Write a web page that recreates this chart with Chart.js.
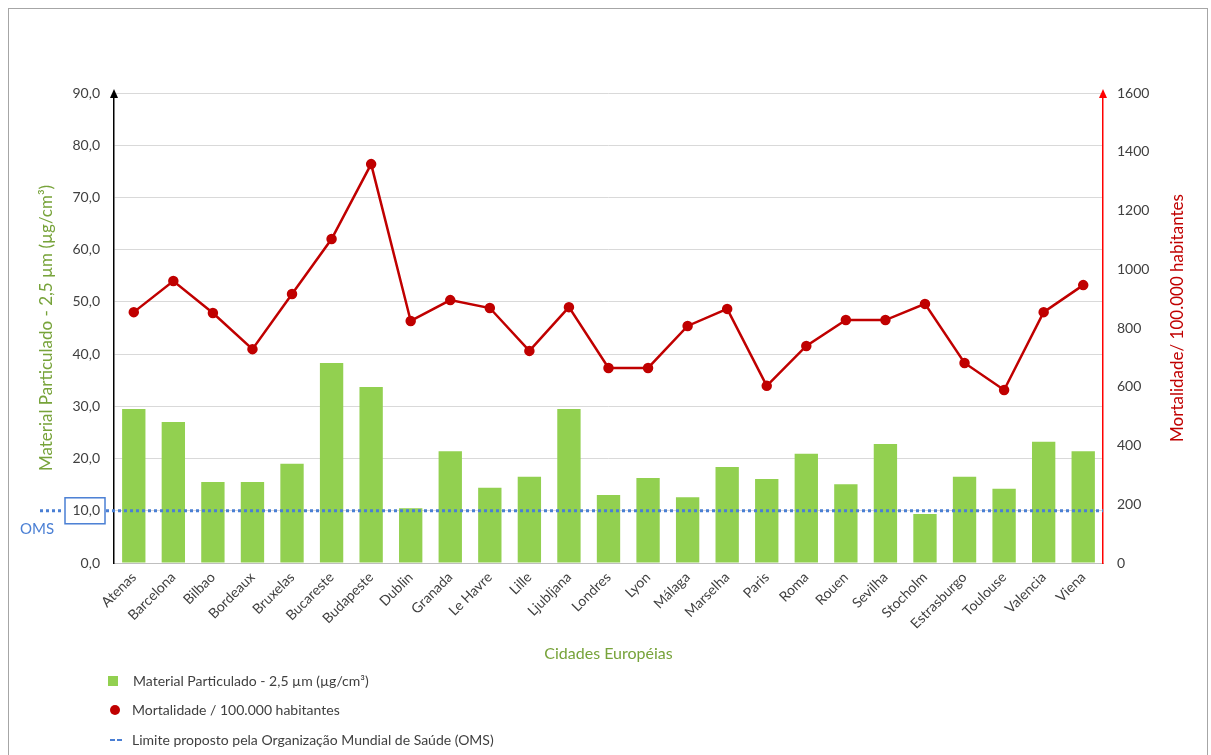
<!DOCTYPE html>
<html>
<head>
<meta charset="utf-8">
<script src="https://cdn.jsdelivr.net/npm/chart.js@4.4.1/dist/chart.umd.min.js"></script>
<style>
  body { margin: 0; background: #fff; font-family: Lato, "Open Sans", sans-serif; }
  #wrap { position: relative; width: 1211px; height: 755px; }
  #frame { position: absolute; left: 8px; top: 8px; width: 1198px; height: 760px; border: 1px solid #a6a6a6; pointer-events: none; }
  .leg { position: absolute; left: 108px; font-size: 14px; color: #404040; display: flex; align-items: center; }
  .sq { width: 10px; height: 10px; background: #92d050; margin-right: 15px; }
  .dot { width: 10px; height: 10px; border-radius: 50%; background: #c00000; margin-right: 12px; margin-left: 2px; }
  .dash { width: 5px; height: 2px; background: #4a7fd4; margin-left: 2px; }
  .dash2 { margin-right: 10px; }
</style>
</head>
<body>
<div id="wrap">
  <canvas id="chart" width="1211" height="755"></canvas>
  <div id="frame"></div>
  <div class="leg" style="top:672px"><span class="sq"></span>Material Particulado - 2,5 µm (µg/cm³)</div>
  <div class="leg" style="top:701px"><span class="dot"></span>Mortalidade / 100.000 habitantes</div>
  <div class="leg" style="top:731px"><span class="dash"></span><span class="dash dash2"></span>Limite proposto pela Organização Mundial de Saúde (OMS)</div>
</div>
<script>
const cidades = ['Atenas', 'Barcelona', 'Bilbao', 'Bordeaux', 'Bruxelas', 'Bucareste', 'Budapeste', 'Dublin',
  'Granada', 'Le Havre', 'Lille', 'Ljubljana', 'Londres', 'Lyon', 'Málaga', 'Marselha', 'Paris', 'Roma',
  'Rouen', 'Sevilha', 'Stocholm', 'Estrasburgo', 'Toulouse', 'Valencia', 'Viena'];

const particulado = [29.5, 27.0, 15.5, 15.5, 19.0, 38.3, 33.7, 10.5, 21.4, 14.4, 16.5, 29.5, 13.0, 16.3,
  12.6, 18.4, 16.1, 20.9, 15.1, 22.8, 9.4, 16.5, 14.2, 23.2, 21.4];

const mortalidade = [854, 960, 851, 728, 916, 1103, 1358, 824, 895, 868, 722, 871, 664, 664,
  807, 865, 603, 739, 827, 827, 882, 681, 589, 854, 946];

const limiteOMS = 10;

const verde = '#77a33a';
const vermelho = '#c00000';
const azul = '#4a7fd4';

function fmt(v) {
    return v.toFixed(1).replace('.', ',');
}

// linha da OMS, caixa do 10,0, setas dos eixos e titulo da direita
const extras = {
    id: 'extras',
    afterDatasetsDraw(chart) {
        const ctx = chart.ctx;
        const area = chart.chartArea;
        const y = chart.scales.y.getPixelForValue(limiteOMS);
        ctx.save();
        ctx.strokeStyle = azul;
        ctx.lineWidth = 3;
        ctx.setLineDash([3, 3]);
        ctx.beginPath();
        ctx.moveTo(40, y);
        ctx.lineTo(64, y);
        ctx.moveTo(106, y);
        ctx.lineTo(area.right, y);
        ctx.stroke();
        ctx.setLineDash([]);
        ctx.lineWidth = 1.5;
        ctx.strokeRect(65, y - 13, 40, 26);
        ctx.fillStyle = azul;
        ctx.font = '15px Lato, sans-serif';
        ctx.textAlign = 'left';
        ctx.textBaseline = 'middle';
        ctx.fillText('OMS', 20, y + 18);
        ctx.restore();
    },
    afterDraw(chart) {
        const ctx = chart.ctx;
        const area = chart.chartArea;
        ctx.save();
        // seta esquerda
        ctx.fillStyle = '#000';
        ctx.beginPath();
        ctx.moveTo(area.left, area.top - 4);
        ctx.lineTo(area.left - 4, area.top + 5);
        ctx.lineTo(area.left + 4, area.top + 5);
        ctx.fill();
        // seta direita
        ctx.fillStyle = '#ff0000';
        ctx.beginPath();
        ctx.moveTo(area.right, area.top - 4);
        ctx.lineTo(area.right - 4, area.top + 5);
        ctx.lineTo(area.right + 4, area.top + 5);
        ctx.fill();
        // titulo eixo direito
        ctx.translate(1178, (area.top + area.bottom) / 2 - 10);
        ctx.rotate(-Math.PI / 2);
        ctx.fillStyle = vermelho;
        ctx.font = '17px Lato, sans-serif';
        ctx.textAlign = 'center';
        ctx.textBaseline = 'middle';
        ctx.fillText('Mortalidade/ 100.000 habitantes', 0, 0);
        ctx.restore();
    }
};

const ctx = document.getElementById('chart').getContext('2d');
const chart = new Chart(ctx, {
    data: {
        labels: cidades,
        datasets: [{
            type: 'line',
            label: 'Mortalidade / 100.000 habitantes',
            data: mortalidade,
            yAxisID: 'y1',
            borderColor: vermelho,
            backgroundColor: vermelho,
            borderWidth: 2.5,
            pointRadius: 4,
            pointBackgroundColor: vermelho,
            tension: 0
        }, {
            type: 'bar',
            label: 'Material Particulado - 2,5 µm (µg/cm³)',
            data: particulado,
            yAxisID: 'y',
            backgroundColor: '#92d050',
            categoryPercentage: 1,
            barPercentage: 0.59
        }]
    },
    options: {
        responsive: false,
        animation: false,
        layout: { padding: { left: 36, top: 93, right: 0, bottom: 92 } },
        plugins: {
            legend: { display: false },
            tooltip: { enabled: false }
        },
        scales: {
            x: {
                grid: { display: false, drawTicks: false },
                border: { color: '#bfbfbf', width: 1 },
                ticks: {
                    color: '#404040',
                    font: { family: 'Lato', size: 14 },
                    maxRotation: 45,
                    minRotation: 45,
                    autoSkip: false,
                    padding: 6
                },
                title: {
                    display: true,
                    text: 'Cidades Européias',
                    color: verde,
                    font: { family: 'Lato', size: 16 },
                    padding: { top: 0, bottom: 0 }
                },
                afterFit(scale) { scale.height = 100; }
            },
            y: {
                position: 'left',
                min: 0,
                max: 90,
                grid: { color: '#d9d9d9', drawTicks: false },
                border: { color: '#000', width: 1.5 },
                ticks: {
                    stepSize: 10,
                    color: '#404040',
                    font: { family: 'Lato', size: 14 },
                    padding: 14,
                    callback: (v) => fmt(v)
                },
                title: {
                    display: true,
                    text: 'Material Particulado - 2,5 µm (µg/cm³)',
                    color: verde,
                    font: { family: 'Lato', size: 17 },
                    padding: 0
                },
                afterFit(scale) { scale.width = 78; }
            },
            y1: {
                position: 'right',
                min: 0,
                max: 1600,
                grid: { display: false, drawTicks: false },
                border: { color: '#ff0000', width: 1.5 },
                ticks: {
                    stepSize: 200,
                    color: '#404040',
                    font: { family: 'Lato', size: 14 },
                    padding: 14,
                    callback: (v) => String(v)
                },
                afterFit(scale) { scale.width = 108; }
            }
        }
    },
    plugins: [extras]
});
</script>
</body>
</html>
